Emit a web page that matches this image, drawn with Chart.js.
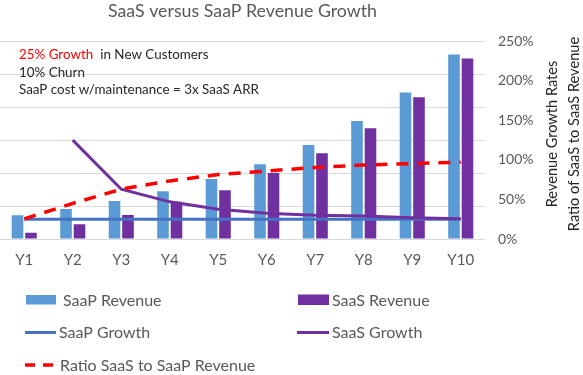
<!DOCTYPE html>
<html>
<head>
<meta charset="utf-8">
<script src="https://cdn.jsdelivr.net/npm/chart.js@4/dist/chart.umd.min.js"></script>
<style>
  html, body { margin: 0; padding: 0; background: #ffffff; }
  canvas { display: block; }
</style>
</head>
<body>
<canvas id="c" width="583" height="375"></canvas>
<script>
// ---- data ----
const categories = ['Y1', 'Y2', 'Y3', 'Y4', 'Y5', 'Y6', 'Y7', 'Y8', 'Y9', 'Y10'];
const saapRevenue = [36, 45.5, 57.5, 72.5, 91, 113.5, 142.5, 179, 222.5, 280];
const saasRevenue = [9.5, 22.5, 36.5, 56.5, 74, 100, 130, 168, 215, 274];
const saapGrowth = [25, 25, 25, 25, 25, 25, 25, 25, 25, 25];
const saasGrowth = [null, 125, 63, 47, 37.5, 32.5, 30, 29, 27, 25.5];
const ratioSaasToSaap = [25.5, 45, 63, 73.5, 81.5, 86, 90.5, 93.5, 95.5, 97];
const rightTicks = [0, 50, 100, 150, 200, 250];
const titleText = 'SaaS versus SaaP Revenue Growth';
const axisTitleLines = ['Revenue Growth Rates', 'Ratio of SaaS to SaaS Revenue'];
const noteLines = [
  { red: '25% Growth', rest: 'in New Customers' },
  { red: '', rest: '10% Churn' },
  { red: '', rest: 'SaaP cost w/maintenance = 3x SaaS ARR' }
];

const FONT = 'Lato, "Open Sans", sans-serif';
const GREY = '#595959';
const DARK = '#262626';

const notesPlugin = {
  id: 'notes',
  afterDraw(chart) {
    const ctx = chart.ctx;
    ctx.save();
    // annotation text (top-left)
    ctx.font = '13.4px ' + FONT;
    ctx.textBaseline = 'middle';
    ctx.textAlign = 'left';
    const ys = [55, 72.5, 90];
    noteLines.forEach((l, i) => {
      let x = 19;
      if (l.red) {
        ctx.fillStyle = '#ff0000';
        ctx.fillText(l.red, x, ys[i]);
        x += ctx.measureText(l.red).width + 7;
      }
      ctx.fillStyle = DARK;
      ctx.fillText(l.rest, x, ys[i]);
    });
    // right axis titles, reading bottom-to-top
    ctx.font = '14.6px ' + FONT;
    ctx.fillStyle = DARK;
    ctx.textAlign = 'center';
    const xs = [552, 574];
    axisTitleLines.forEach((t, i) => {
      ctx.save();
      ctx.translate(xs[i], 134);
      ctx.rotate(-Math.PI / 2);
      ctx.fillText(t, 0, 0);
      ctx.restore();
    });
    // legend
    const ds = chart.data.datasets;
    const byLabel = {};
    ds.forEach(d => byLabel[d.label] = d);
    ctx.font = '16px ' + FONT;
    ctx.fillStyle = GREY;
    ctx.textAlign = 'left';
    // row 1: bar swatches
    ctx.fillStyle = byLabel['SaaP Revenue'].backgroundColor;
    ctx.fillRect(26, 295, 30, 9.5);
    ctx.fillStyle = byLabel['SaaS Revenue'].backgroundColor;
    ctx.fillRect(298, 294.5, 31, 10.5);
    ctx.fillStyle = GREY;
    ctx.fillText('SaaP Revenue', 63, 300.5);
    ctx.fillText('SaaS Revenue', 332, 300.5);
    // row 2: line swatches
    ctx.lineWidth = 3;
    ctx.strokeStyle = byLabel['SaaP Growth'].borderColor;
    ctx.beginPath(); ctx.moveTo(25, 332.5); ctx.lineTo(56, 332.5); ctx.stroke();
    ctx.strokeStyle = byLabel['SaaS Growth'].borderColor;
    ctx.beginPath(); ctx.moveTo(297, 332.5); ctx.lineTo(329, 332.5); ctx.stroke();
    ctx.fillText('SaaP Growth', 59, 332.5);
    ctx.fillText('SaaS Growth', 332, 332.5);
    // row 3: dashed
    ctx.strokeStyle = byLabel['Ratio SaaS to SaaP Revenue'].borderColor;
    ctx.lineWidth = 3.5;
    ctx.beginPath(); ctx.moveTo(25, 365); ctx.lineTo(35, 365); ctx.moveTo(43, 365); ctx.lineTo(53, 365); ctx.stroke();
    ctx.fillText('Ratio SaaS to SaaP Revenue', 60, 365.5);
    ctx.restore();
  }
};

new Chart(document.getElementById('c'), {
  data: {
    labels: categories,
    datasets: [
      {
        type: 'line', label: 'Ratio SaaS to SaaP Revenue', data: ratioSaasToSaap, yAxisID: 'y1',
        borderColor: '#ff0000', backgroundColor: '#ff0000', borderWidth: 3.5, borderDash: [12, 9],
        pointRadius: 0, tension: 0, fill: false, order: 1
      },
      {
        type: 'line', label: 'SaaS Growth', data: saasGrowth, yAxisID: 'y1',
        borderColor: '#7030a0', backgroundColor: '#7030a0', borderWidth: 3,
        pointRadius: 0, tension: 0, fill: false, order: 2
      },
      {
        type: 'line', label: 'SaaP Growth', data: saapGrowth, yAxisID: 'y1',
        borderColor: '#4472c4', backgroundColor: '#4472c4', borderWidth: 3,
        pointRadius: 0, tension: 0, fill: false, order: 3
      },
      {
        type: 'bar', label: 'SaaP Revenue', data: saapRevenue, yAxisID: 'y',
        backgroundColor: '#5b9bd5', borderWidth: 0,
        categoryPercentage: 0.556, barPercentage: 0.86, order: 10
      },
      {
        type: 'bar', label: 'SaaS Revenue', data: saasRevenue, yAxisID: 'y',
        backgroundColor: '#7030a0', borderWidth: 0,
        categoryPercentage: 0.556, barPercentage: 0.86, order: 11
      }
    ]
  },
  options: {
    responsive: false,
    animation: false,
    devicePixelRatio: 1,
    layout: { padding: { left: -7.3, right: 0, top: 0, bottom: 106 } },
    plugins: {
      legend: { display: false },
      tooltip: { enabled: false },
      title: {
        display: true, text: titleText, fullSize: false, align: 'center',
        color: GREY, font: { family: FONT, size: 17.8, weight: 'normal' },
        padding: { top: 1, bottom: 19 }
      }
    },
    scales: {
      x: {
        type: 'category', offset: true,
        grid: { display: false, drawTicks: false },
        border: { display: false },
        ticks: { color: GREY, font: { family: FONT, size: 15 }, padding: 12, autoSkip: false, maxRotation: 0 },
        afterFit(s) { s.height = 30; }
      },
      y: {
        position: 'left', min: 0, max: 300,
        ticks: { display: false, stepSize: 50 },
        grid: { color: '#d9d9d9', lineWidth: 1, drawTicks: false },
        border: { display: false },
        afterFit(s) { s.width = 0; }
      },
      y1: {
        position: 'right', min: 0, max: 250,
        afterBuildTicks(s) { s.ticks = rightTicks.map(v => ({ value: v })); },
        ticks: { color: GREY, font: { family: FONT, size: 14 }, padding: 13, callback: v => v + '%' },
        grid: { display: false, drawTicks: false },
        border: { display: false },
        afterFit(s) { s.width = 98; }
      }
    }
  },
  plugins: [notesPlugin]
});
</script>
</body>
</html>
